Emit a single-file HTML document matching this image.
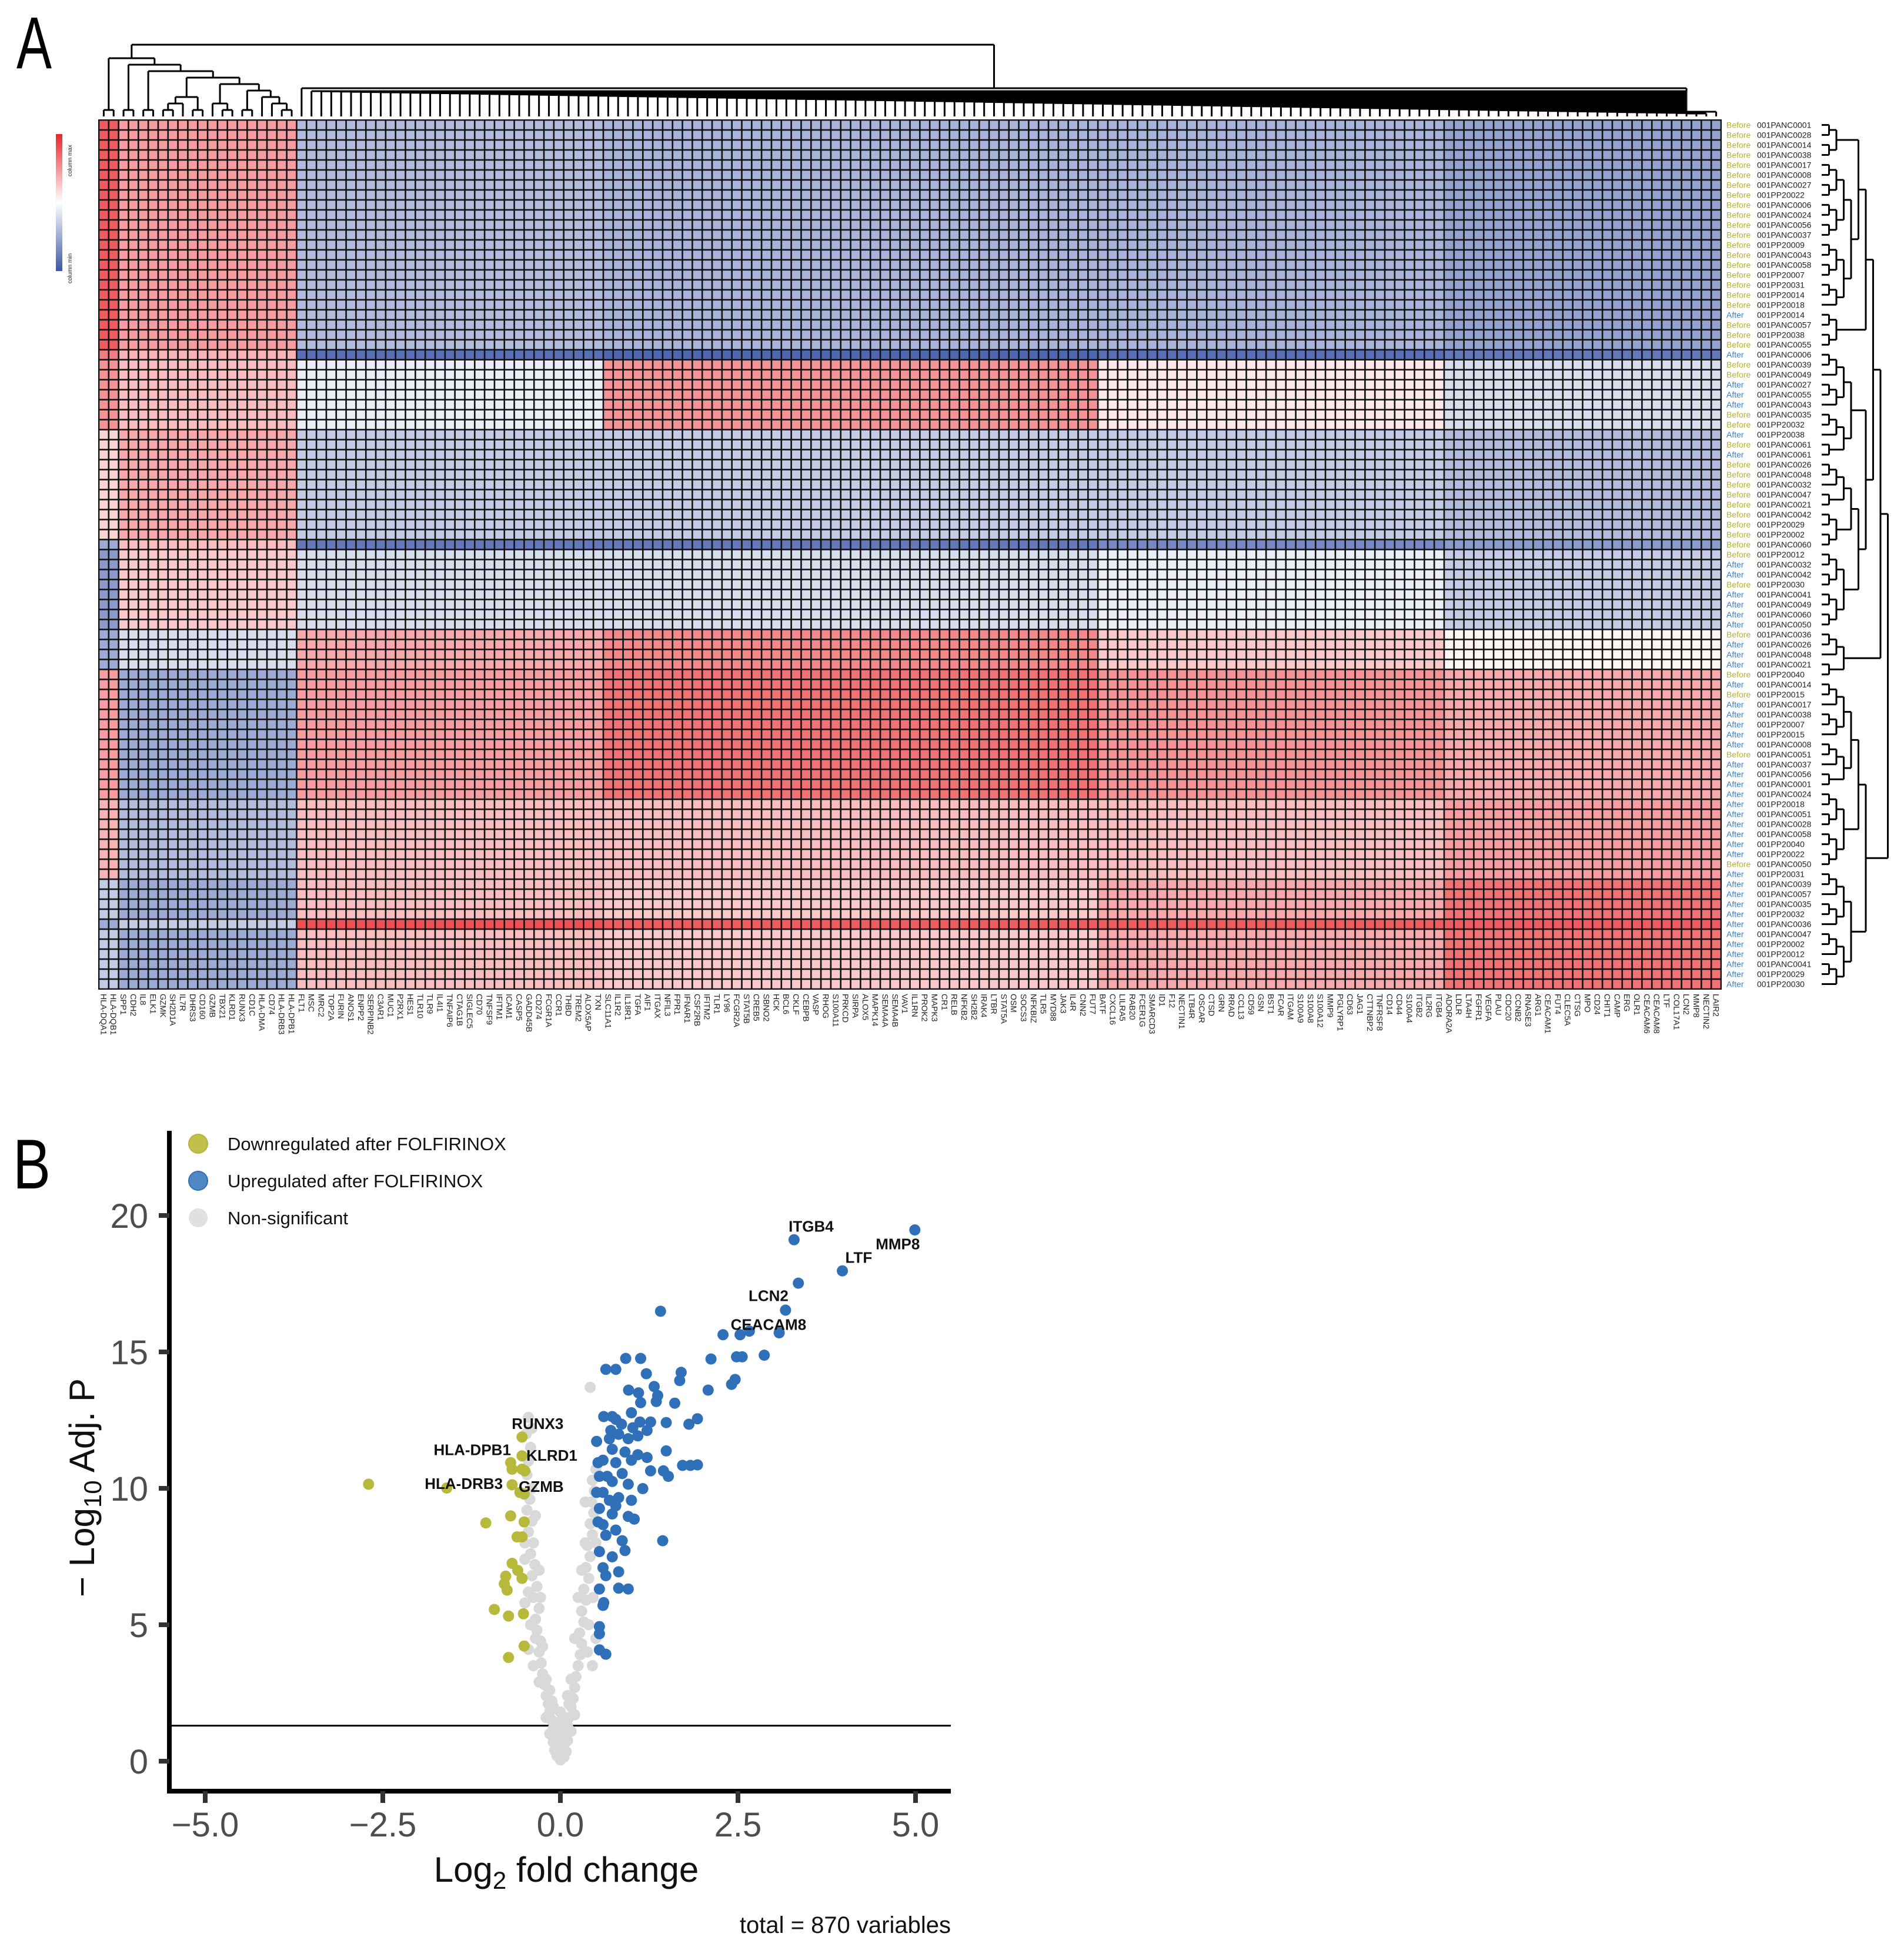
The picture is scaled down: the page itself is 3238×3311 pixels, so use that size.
<!DOCTYPE html>
<html><head><meta charset="utf-8"><title>Heatmap and volcano plot</title>
<style>
html,body{margin:0;padding:0;background:#fff;}
svg{display:block;font-family:"Liberation Sans",Arial,sans-serif;}
</style></head>
<body>
<svg id="fig" xmlns="http://www.w3.org/2000/svg" width="3238" height="3311" viewBox="0 0 3238 3311">
<rect x="0" y="0" width="3238" height="3311" fill="#fff"/>
<text x="28" y="116" font-size="125" transform="translate(28,0) scale(0.72,1) translate(-28,0)" fill="#000">A</text>
<text x="22" y="2021" font-size="120" transform="translate(22,0) scale(0.8,1) translate(-22,0)" fill="#000">B</text>
<defs>
<linearGradient id="cg" x1="0" y1="0" x2="0" y2="1">
<stop offset="0" stop-color="#e8262b"/><stop offset="0.5" stop-color="#ffffff"/><stop offset="1" stop-color="#3b56a8"/>
</linearGradient>
</defs>
<g>
<rect x="95" y="228" width="11" height="233" fill="url(#cg)"/>
<text x="0" y="0" font-size="10" fill="#222" transform="translate(122,300) rotate(-90)">column max</text>
<text x="0" y="0" font-size="10" fill="#222" transform="translate(122,482) rotate(-90)">column min</text>
</g>
<g id="heat"></g>
<g id="rowlabels"></g>
<g id="collabels"></g>
<g id="coldendro" stroke="#000" stroke-width="3" fill="none"></g>
<g id="rowdendro" stroke="#000" stroke-width="3" fill="none"></g>
<g id="volcano"></g>
</svg>
<script>
// ---------- Heatmap data ----------
const colNames = ["HLA-DQA1","HLA-DQB1","SPP1","CDH2","IL8","ELK1","GZMK","SH2D1A","IL7R","DHRS3","CD160","GZMB","TBX21","KLRD1","RUNX3","CD1C","HLA-DMA","CD74","HLA-DRB3","HLA-DPB1","FLT1","MSC",
"MRC2","TOP2A","FURIN","ANOS1","ENPP2","SERPINB2","C3AR1","MUC1","P2RX1","HES1","TLR10","TLR9","IL4I1","TNFAIP6","CTAG1B","SIGLEC5","CD70","TNFSF9","IFITM1","ICAM1","CASP5","GADD45B","CD274","FCGR1A","CCR1","THBD","TREM2","ALOX5AP","TXN","SLC11A1","IL1R2","IL18R1","TGFA","AIF1","ITGAX","NFIL3","FPR1","IFNAR1","CSF2RB","IFITM2","TLR1","LY96","FCGR2A","STAT5B","CREB5","SBNO2","HCK",
"BCL6","CKLF","CEBPB","VASP","RHOG","S100A11","PRKCD","SIRPA","ALOX5","MAPK14","SEMA4A","SEMA4B","VAV1","IL1RN","PROK2","MAPK3","CR1","RELB","NFKB2","SH2B2","IRAK4","LTBR","STAT5A","OSM","SOCS3","NFKBIZ","TLR5","MYD88","JAK3","IL4R","CNN2","FUT7","BATF","CXCL16","LILRA5","RAB20","FCER1G","SMARCD3","ID1","F12","NECTIN1","LTB4R","OSCAR","CTSD","GRN","RRAD","CCL13",
"CD59","GSN","BST1","FCAR","ITGAM","S100A9","S100A8","S100A12","MMP9","PGLYRP1","CD63","JAG1","CTTNBP2","TNFRSF8","CD14","CD44","S100A4","ITGB2","IL2RG","ITGB4","ADORA2A","LDLR","LTA4H","FGFR1","VEGFA","PLAU","CDC20","CCNB2","RNASE3","ARG1","CEACAM1","FUT4","CLEC5A","CTSG","MPO","CD24","CHIT1","CAMP","ERG","OLR1","CEACAM6","CEACAM8","LTF","COL17A1","LCN2","MMP8","NECTIN2","LAIR2"];
const rowGroup = ["Before","Before","Before","Before","Before","Before","Before","Before","Before","Before","Before","Before","Before","Before","Before","Before","Before","Before","Before","After","Before","Before","Before","After","Before","Before","After","After","After","Before","Before","After","Before","After","Before","Before","Before","Before","Before","Before","Before","Before","Before","Before","After","After","Before","After","After","After","After","Before","After","After","After","Before","After","Before","After","After","After","After","After","Before","After","After","After","After","After","After","After","After","After","After","Before","After","After","After","After","After","After","After","After","After","After","After","After"];
const rowIds = ["001PANC0001","001PANC0028","001PANC0014","001PANC0038","001PANC0017","001PANC0008","001PANC0027","001PP20022","001PANC0006","001PANC0024","001PANC0056","001PANC0037","001PP20009","001PANC0043","001PANC0058","001PP20007","001PP20031","001PP20014","001PP20018","001PP20014","001PANC0057","001PP20038","001PANC0055","001PANC0006","001PANC0039","001PANC0049","001PANC0027","001PANC0055","001PANC0043","001PANC0035","001PP20032","001PP20038","001PANC0061","001PANC0061","001PANC0026","001PANC0048","001PANC0032","001PANC0047","001PANC0021","001PANC0042","001PP20029","001PP20002","001PANC0060","001PP20012","001PANC0032","001PANC0042","001PP20030","001PANC0041","001PANC0049","001PANC0060","001PANC0050","001PANC0036","001PANC0026","001PANC0048","001PANC0021","001PP20040","001PANC0014","001PP20015","001PANC0017","001PANC0038","001PP20007","001PP20015","001PANC0008","001PANC0051","001PANC0037","001PANC0056","001PANC0001","001PANC0024","001PP20018","001PANC0051","001PANC0028","001PANC0058","001PP20040","001PP20022","001PANC0050","001PP20031","001PANC0039","001PANC0057","001PANC0035","001PP20032","001PANC0036","001PANC0047","001PP20002","001PP20012","001PANC0041","001PP20029","001PP20030"];
const rowCluster = [0,0,0,0,0,0,0,0,0,0,0,0,0,0,0,0,0,0,0,0,0,0,0,1,2,2,2,2,2,2,2,3,3,3,3,3,3,3,3,3,3,3,4,5,5,5,5,5,5,5,5,6,6,6,6,7,7,7,7,7,7,7,7,7,7,7,7,7,8,8,8,8,8,8,8,8,9,9,9,9,10,9,9,9,9,9,9];
const segStart = [0,2,20,51,101,136];
const clusterMeans = [
 [0.75,0.45,-0.40,-0.45,-0.45,-0.55],
 [0.60,0.35,-0.85,-0.90,-0.85,-0.80],
 [0.50,0.30,-0.10,0.50,0.10,-0.20],
 [0.20,0.40,-0.30,-0.30,-0.30,-0.40],
 [-0.50,0.30,-0.80,-0.80,-0.70,-0.60],
 [-0.60,0.25,-0.20,-0.20,-0.10,-0.30],
 [-0.50,-0.20,0.40,0.55,0.25,0.05],
 [0.45,-0.50,0.45,0.65,0.50,0.40],
 [0.35,-0.40,0.30,0.30,0.30,0.45],
 [-0.30,-0.50,0.30,0.25,0.40,0.65],
 [-0.50,-0.30,0.80,0.75,0.75,0.75]
];
// ---------- Volcano data ----------
const xTicks = [-5,-2.5,0,2.5,5];
const xTickLabels = ["\u22125.0","\u22122.5","0.0","2.5","5.0"];
const yTicks = [0,5,10,15,20];
const yTickLabels = ["0","5","10","15","20"];
const grayX = [-0.02,-0.05,-0.08,-0.1,-0.12,-0.15,-0.17,-0.2,-0.22,-0.25,-0.27,-0.3,-0.28,-0.33,-0.35,-0.3,-0.38,-0.33,-0.4,-0.36,-0.42,-0.38,-0.45,-0.4,-0.47,-0.43,-0.4,-0.47,-0.45,-0.42,-0.48,-0.45,-0.4,-0.2,-0.35,-0.25,-0.42,-0.45,-0.3,-0.5,-0.35,-0.5,-0.28,-0.45,-0.15,-0.1,-0.3,-0.38,-0.5,-0.5,
0.02,0.05,0.08,0.1,0.12,0.15,0.18,0.2,0.22,0.25,0.28,0.3,0.27,0.33,0.3,0.36,0.33,0.4,0.36,0.42,0.38,0.45,0.42,0.47,0.44,0.48,0.45,0.5,0.42,0.35,0.25,0.2,0.4,0.3,0.46,0.15,0.38,0.5,0.1,0.35,0.5,0.45,
0,-0.05,0.05,-0.03,0.03,0,-0.08,0.08,0,-0.04,0.04,-0.15,0.15,-0.1,0.1,0,-0.12,0.12,0,-0.2,0.2];
const grayY = [0.3,0.6,0.9,1.2,1.5,1.8,2.1,2.4,2.8,3.2,3.6,4.0,4.4,4.8,5.2,5.6,6.0,6.4,6.8,7.2,7.6,8.0,8.4,8.8,9.2,9.6,10.0,10.5,11.0,11.5,12.0,12.6,12.2,3.0,4.5,4.2,5.0,6.2,7.0,7.4,9.0,8.0,6.0,4.1,2.6,2.0,2.9,3.5,5.8,9.8,
0.3,0.6,0.9,1.3,1.6,2.0,2.3,2.7,3.1,3.5,3.9,4.3,4.7,5.1,5.5,5.9,6.3,6.7,7.1,7.5,7.9,8.3,8.7,9.1,9.5,9.9,10.3,10.7,13.7,8.0,6.0,4.5,5.0,7.0,6.0,3.0,4.0,8.0,2.4,9.5,4.5,3.5,
0.1,0.2,0.15,0.5,0.45,0.8,0.4,0.35,1.1,1.4,1.6,1.0,1.1,0.7,0.75,1.8,2.2,2.1,0.05,1.6,1.7];
const downX = [-2.70,-1.60,-0.54,-0.70,-0.68,-0.54,-0.50,-0.68,-0.57,-0.51,-0.54,-0.70,-1.05,-0.61,-0.54,-0.68,-0.60,-0.77,-0.79,-0.75,-0.54,-0.93,-0.73,-0.52,-0.51,-0.73,-0.51];
const downY = [10.15,10.01,11.88,10.94,10.70,10.70,10.64,10.13,9.85,9.79,11.19,8.99,8.73,8.22,8.22,7.25,6.99,6.78,6.50,6.27,6.70,5.56,5.32,5.40,4.22,3.80,8.77];
const upX = [4.99,3.29,3.97,3.35,3.17,1.41,3.08,2.53,2.66,2.29,2.87,2.12,2.48,2.56,0.92,1.13,0.64,0.78,1.21,1.70,1.68,2.46,2.41,2.08,0.96,1.32,1.10,1.37,1.35,1.13,1.61,
0.61,0.73,0.78,0.86,1.0,1.12,1.27,1.49,1.81,1.93,
0.71,0.82,0.955,1.09,1.22,0.51,0.73,0.91,1.09,0.60,0.78,1.0,1.22,1.49,1.45,1.52,1.72,1.83,1.93,1.27,1.16,0.55,0.73,0.955,0.60,0.82,1.0,0.55,0.73,0.955,1.04,0.60,0.78,0.64,0.87,0.55,0.73,0.91,1.44,0.60,0.82,0.64,0.55,0.955,0.82,0.60,0.61,0.55,0.55,0.55,0.64,
0.53,0.66,0.51,0.69,0.53,0.78,0.87,0.69,1.02];
const upY = [19.47,19.11,17.97,17.52,16.53,16.49,15.70,15.63,15.76,15.63,14.88,14.74,14.82,14.82,14.76,14.76,14.36,14.36,14.20,14.25,13.95,13.99,13.81,13.60,13.60,13.73,13.50,13.40,13.18,13.14,13.12,
12.63,12.63,12.53,12.35,12.77,12.43,12.43,12.41,12.35,12.55,
12.12,11.98,11.82,11.92,12.12,11.72,11.43,11.33,11.23,11.03,10.94,11.03,11.13,11.37,10.64,10.44,10.84,10.84,10.86,10.64,9.99,10.44,10.25,10.15,9.85,9.66,9.56,9.26,9.06,8.97,8.87,8.67,8.47,8.28,8.08,7.68,7.49,7.72,8.08,7.09,6.94,6.80,6.31,6.31,6.34,5.71,5.81,4.93,4.67,4.08,3.92,
10.94,10.44,9.85,9.56,8.77,9.36,10.54,11.82,12.22];
const geneLabels = ["ITGB4","MMP8","LTF","LCN2","CEACAM8","RUNX3","HLA-DPB1","KLRD1","HLA-DRB3","GZMB"];
const geneLabelX = [3.53,4.75,4.20,2.93,2.93,-0.32,-1.24,-0.12,-1.36,-0.27];
const geneLabelY = [19.6,18.96,18.46,17.06,16.0,12.37,11.41,11.21,10.17,10.07];
</script>
<script>
const NS = "http://www.w3.org/2000/svg";
function mk(tag, attrs, parent){ const e=document.createElementNS(NS,tag); for(const k in attrs) e.setAttribute(k,attrs[k]); if(parent) parent.appendChild(e); return e; }

const HX0=168, HY0=204, HX1=2927, HY1=1682;
const nC = colNames.length, nR = rowIds.length;
const cw = (HX1-HX0)/nC, ch = (HY1-HY0)/nR;
function colX(c){ return HX0 + c*cw; }
function rowY(r){ return HY0 + r*ch; }
function segOf(c){ let s=0; for(let i=0;i<segStart.length;i++) if(c>=segStart[i]) s=i; return s; }
function lerp(a,b,t){ return Math.round(a+(b-a)*t); }
function colorOf(v){
  v=Math.max(-1,Math.min(1,v));
  if(v>=0) return `rgb(${lerp(255,232,v)},${lerp(255,38,v)},${lerp(255,43,v)})`;
  const t=-v; return `rgb(${lerp(255,59,t)},${lerp(255,86,t)},${lerp(255,168,t)})`;
}
const heat = document.getElementById('heat');
mk('rect',{x:HX0-1,y:HY0-1,width:HX1-HX0+2,height:HY1-HY0+2,fill:'#111'},heat);
for(let r=0;r<nR;r++){
  for(let c=0;c<nC;c++){
    const v = clusterMeans[rowCluster[r]][segOf(c)];
    const el = mk('rect',{x:(colX(c)+1.3).toFixed(2),y:(rowY(r)+1.3).toFixed(2),width:(cw-2.6).toFixed(2),height:(ch-2.6).toFixed(2),fill:colorOf(v)},heat);
    
    
  }
}
const rl = document.getElementById('rowlabels');
for(let r=0;r<nR;r++){
  const y = rowY(r)+ch/2+5;
  const g = mk('text',{x:2936,y:y,'font-size':14,fill: rowGroup[r]==='Before'?'#b3b32c':'#3a7fc6'},rl);
  g.textContent = rowGroup[r];
  
  
  const t = mk('text',{x:2988,y:y,'font-size':14,fill:'#222'},rl);
  t.textContent = rowIds[r];
  
  
}
const cl = document.getElementById('collabels');
for(let c=0;c<nC;c++){
  const x = colX(c)+cw/2-5;
  const t = mk('text',{x:0,y:0,'font-size':14,fill:'#222',transform:`translate(${x.toFixed(1)},1690) rotate(90)`},cl);
  t.textContent = colNames[c];
  
  
}
function half(lo,hi){ if(lo===hi) return lo; const m=Math.floor((lo+hi)/2); return [half(lo,m),half(m+1,hi)]; }
function line(g,x1,y1,x2,y2){ mk('line',{x1:x1,y1:y1,x2:x2,y2:y2},g); }
const cd = document.getElementById('coldendro');
const leafY = 198;
function drawCol(node){
  if(typeof node==='number') return {x:colX(node)+cw/2, y:leafY, lv:0};
  const a=drawCol(node[0]), b=drawCol(node[1]);
  const lv=Math.max(a.lv,b.lv)+1; const y=leafY-11*lv;
  line(cd,a.x,a.y,a.x,y); line(cd,b.x,b.y,b.x,y); line(cd,a.x,y,b.x,y);
  return {x:(a.x+b.x)/2,y:y,lv:lv};
}
const leftTree=[[0,1],[[2,3],[[4,5],[[[[6,7],8],[9,10]],[[11,[12,13]],[[14,15],[16,[17,[18,19]]]]]]]]];
const L = drawCol(leftTree);
// right cluster: comb whose running node stays at the right end
const rightNodeX = colX(nC-4)+cw/2;
let curY = leafY;
line(cd,rightNodeX,leafY,rightNodeX,leafY-6);
curY = leafY-6;
for(let i=nC-2;i>=21;i--){
  if(i===nC-4) continue;
  const xi=colX(i)+cw/2; const ny = 193-(nC-2-i)/(nC-23)*38;
  line(cd,xi,leafY,xi,ny); line(cd,rightNodeX,curY,rightNodeX,ny); line(cd,xi,ny,rightNodeX,ny);
  curY=ny;
}
line(cd,colX(nC-1)+cw/2,leafY,colX(nC-1)+cw/2,190); line(cd,colX(nC-1)+cw/2,190,rightNodeX,190);
const x20 = colX(20)+cw/2;
line(cd,x20,leafY,x20,150); line(cd,rightNodeX,curY,rightNodeX,150); line(cd,x20,150,rightNodeX,150);
const RX=(x20+rightNodeX)/2;
line(cd,L.x,L.y,L.x,76); line(cd,RX,150,RX,76); line(cd,L.x,76,RX,76);
const rd = document.getElementById('rowdendro');
const leafX = 3098;
function drawRow(node){
  if(typeof node==='number') return {y:rowY(node)+ch/2, x:leafX, lv:0};
  const a=drawRow(node[0]), b=drawRow(node[1]);
  const lv=Math.max(a.lv,b.lv)+1; const x=leafX+12.5*lv;
  line(rd,a.x,a.y,x,a.y); line(rd,b.x,b.y,x,b.y); line(rd,x,a.y,x,b.y);
  return {y:(a.y+b.y)/2,x:x,lv:lv};
}
const rowTree = [[[[[half(0,3),half(4,18)],half(19,22)],[half(23,33),[half(34,42),half(43,50)]]],half(51,55)],[[half(56,66),half(67,74)],[half(75,80),half(81,86)]]];
drawRow(rowTree);

const vg = document.getElementById('volcano');
function xS(v){ return 953 + v*120.8; }
function yS(v){ return 2995 - v*46.4; }
mk('line',{x1:292,y1:yS(1.3),x2:1617,y2:yS(1.3),stroke:'#000','stroke-width':3},vg);
function pts(xs,ys,fill,name){
  for(let i=0;i<xs.length;i++){
    const c = mk('circle',{cx:xS(xs[i]).toFixed(1),cy:yS(ys[i]).toFixed(1),r:9.5,fill:fill},vg);
    
    
  }
}
pts(grayX,grayY,'#d9d9d9','point-nonsignificant');
pts(downX,downY,'#b8b83a','point-downregulated');
pts(upX,upY,'#2f70b9','point-upregulated');
for(let i=0;i<geneLabels.length;i++){
  const t = mk('text',{x:xS(geneLabelX[i]).toFixed(1),y:(yS(geneLabelY[i])+9).toFixed(1),'font-size':26,'font-weight':'bold','text-anchor':'middle',fill:'#111'},vg);
  t.textContent = geneLabels[i];
  
  
}
mk('line',{x1:288,y1:1923,x2:288,y2:3050,stroke:'#000','stroke-width':8},vg);
mk('line',{x1:284,y1:3046,x2:1617,y2:3046,stroke:'#000','stroke-width':8},vg);
for(let i=0;i<yTicks.length;i++){
  const y=yS(yTicks[i]);
  mk('line',{x1:270,y1:y,x2:288,y2:y,stroke:'#333','stroke-width':8},vg);
  const t=mk('text',{x:252,y:y+21,'font-size':58,'text-anchor':'end',fill:'#4d4d4d'},vg);
  t.textContent=yTickLabels[i];
  
  
}
for(let i=0;i<xTicks.length;i++){
  const x=xS(xTicks[i]);
  mk('line',{x1:x,y1:3046,x2:x,y2:3066,stroke:'#333','stroke-width':8},vg);
  const t=mk('text',{x:x,y:3123,'font-size':58,'text-anchor':'middle',fill:'#4d4d4d'},vg);
  t.textContent=xTickLabels[i];
  
  
}
</script>
<script>
(function(){
  const fig=document.getElementById('fig');
  const add=(html)=>{ const g=document.createElementNS(NS,'g'); g.innerHTML=html; fig.appendChild(g); return g; };
  add('<text x="963" y="3200" font-size="60" text-anchor="middle" fill="#111">Log<tspan font-size="42" dy="12">2</tspan><tspan dy="-12"> fold change</tspan></text>');
  add('<text transform="translate(160,2530) rotate(-90)" font-size="60" text-anchor="middle" fill="#111">\u2212 Log<tspan font-size="42" dy="12">10</tspan><tspan dy="-12"> Adj. P</tspan></text>');
  add('<text x="1617" y="3287" font-size="40" text-anchor="end" fill="#111">total = 870 variables</text>');
  add('<g>'+
    '<circle cx="337" cy="1945" r="16" fill="#c0c04a" stroke="#b5b53c" stroke-width="2"/>'+
    '<text x="387" y="1956" font-size="31" fill="#111">Downregulated after FOLFIRINOX</text>'+
    '<circle cx="337" cy="2008" r="16" fill="#4f86c4" stroke="#2f70b9" stroke-width="2"/>'+
    '<text x="387" y="2019" font-size="31" fill="#111">Upregulated after FOLFIRINOX</text>'+
    '<circle cx="337" cy="2071" r="16" fill="#e0e0e0"/>'+
    '<text x="387" y="2082" font-size="31" fill="#111">Non-significant</text></g>');
})();
</script>
</body></html>
